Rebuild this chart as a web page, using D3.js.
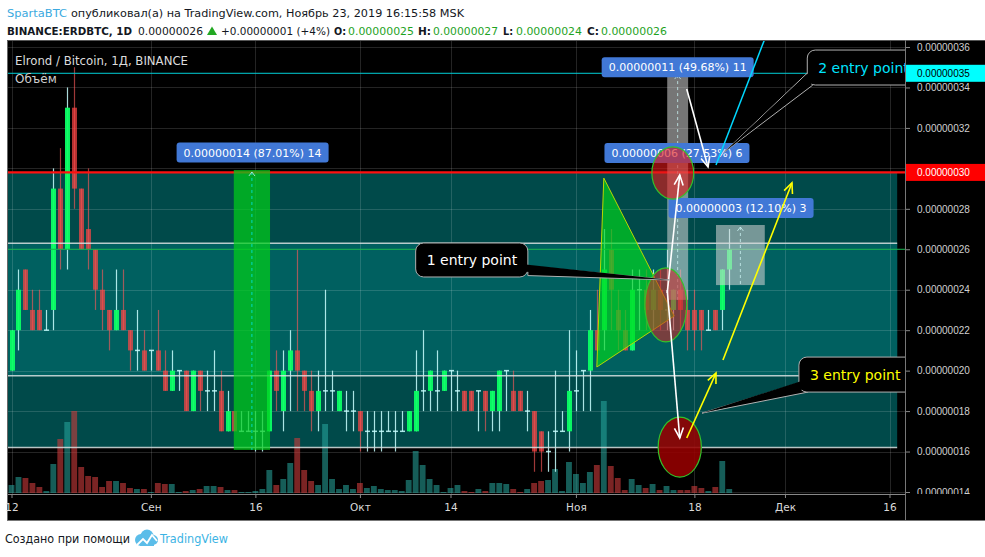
<!DOCTYPE html>
<html><head><meta charset="utf-8">
<script src="https://cdn.jsdelivr.net/npm/d3@7"></script>
<style>body{margin:0;background:#fff;} svg{display:block;}</style>
</head><body>
<svg id="c" width="985" height="557"></svg>
<script>
// ---------------- DATA (prices in satoshi, 1e-8 BTC) ----------------
const startDay = Date.UTC(2019, 7, 12);   // first visible candle: 12 Aug 2019
const opens  = [20,22,25,23,23,22,23,29,26,33,29,27,26,24,23,22,23,22,21,21,21,21,20,19,20,20,18,20,19,19,19,17,18,17,17,17,17,17,20,18,20,21,20,19,18,19,19,18,18,18,18,17,17,17,17,17,17,17,17,19,19,19,19,20,19,19,19,19,19,18,18,20,19,19,18,18,17,16,17,17,17,19,20,20,22,22,26,23,22,21,24,24,23,24,23,23,24,23,23,23,22,23,23,25];
const highs  = [22,25,25,24,24,23,30,31,34,35,29,30,26,25,23,25,25,22,23,22,21,23,21,21,20,20,20,20,20,21,20,19,18,18,18,18,18,20,21,21,22,26,20,20,20,24,20,19,19,19,18,18,18,18,18,18,18,18,21,22,20,21,20,20,20,19,19,19,19,19,20,20,20,19,19,18,17,17,20,18,22,21,20,23,24,27,27,24,23,25,25,25,25,25,26,24,25,24,24,23,23,23,25,27];
const lows   = [20,21,23,22,22,22,22,25,25,28,26,25,23,22,21,22,22,20,20,20,20,20,19,19,19,18,18,18,18,18,17,17,17,17,17,16,16,17,18,17,18,18,18,17,17,18,18,18,17,17,16,16,16,16,17,16,17,17,17,18,18,18,19,18,18,18,18,17,17,17,17,18,18,18,17,15,15,15,15,17,16,18,18,18,21,21,22,21,21,21,22,22,22,22,22,22,22,21,21,21,22,22,22,24];
const closes = [22,24,23,22,22,22,29,26,33,29,26,26,24,23,22,23,22,21,21,20,21,20,19,20,20,18,20,19,19,19,17,18,17,17,17,17,17,20,19,20,21,20,19,18,19,19,19,19,18,18,17,17,17,17,17,17,17,18,19,19,20,19,20,20,19,18,18,19,18,19,20,20,18,18,18,16,16,16,17,17,19,19,20,22,21,25,24,22,21,24,24,23,24,23,23,24,23,22,22,22,22,22,25,26];
const volumes = [8,16,15,10,6,2,29,54,71,82,26,17,16,6,12,12,10,5,4,4,1,10,9,9,1,2,3,4,7,7,6,3,3,1,1,2,4,23,8,14,30,55,23,12,8,69,14,4,8,4,10,5,7,4,3,3,2,13,42,28,14,8,1,5,8,2,1,4,2,10,10,9,4,1,4,10,12,13,24,2,31,19,10,21,28,92,27,15,3,14,8,5,9,3,7,3,3,3,7,5,2,6,32,4];

const priceTicks = [14,16,18,20,22,24,26,28,30,32,34,36];
const timeTicks = [["2019-08-12","12"],["2019-09-01","Сен"],["2019-09-16","16"],["2019-10-01","Окт"],["2019-10-14","14"],["2019-11-01","Ноя"],["2019-11-18","18"],["2019-12-01","Дек"],["2019-12-16","16"]];

// drawn levels and zones (price in satoshi, day = days since 12 Aug)
const redLevel = 29.8;
const cyanLevel = 34.7;
const zoneOuter = {top: 29.8, bottom: 16.2, d0: -60, d1: 127.1};
const zoneInner = {top: 26.3, bottom: 19.75};
const whiteLevels = [26.3, 19.75, 16.2];

const measureRects = [
  {d0: 31.9, d1: 37.1, p0: 16.08, p1: 29.92, kind: "green"},
  {d0: 94.1, d1: 97.1, p0: 23.5,  p1: 34.71, kind: "gray"},
  {d0: 101.1, d1: 108.1, p0: 24.23, p1: 27.2, kind: "gray"}
];
const measureLabels = [
  {text: "0.00000014 (87.01%) 14", d: 34.6, p: 30.78},
  {text: "0.00000011 (49.68%) 11", d: 95.6, p: 35.0},
  {text: "0.00000006 (27.53%) 6",  d: 95.5, p: 30.76},
  {text: "0.00000003 (12.10%) 3",  d: 104.7, p: 28.04}
];
const triangle = [[85.0, 29.52], [84.0, 20.18], [95.1, 22.7]];
const ellipses = [
  {d: 94.9, p: 29.77, rd: 3.0, rp: 1.29, fill: "rgba(225,25,25,0.62)"},
  {d: 93.9, p: 23.25, rd: 3.0, rp: 1.83, fill: "rgba(205,40,40,0.58)"},
  {d: 95.9, p: 16.22, rd: 3.1, rp: 1.48, fill: "rgba(150,0,0,0.88)"}
];
const whiteArrows  = [[[94.1, 23.84], [95.9, 29.67]], [[94.1, 23.99], [95.9, 16.67]], [[96.9, 33.92], [99.96, 30.07]]];
const yellowArrows = [[[96.9, 16.67], [101.1, 19.88]], [[102.1, 20.53], [112.0, 29.28]]];
const cyanTrend = [[101.1, 30.17], [108.6, 36.84]];
const callouts = [
  {text: "1 entry point", color: "#ffffff", d0: 58.0, d1: 74.1, pTop: 26.31, pBot: 24.63, tip: [94.5, 24.48], base: [[74.1, 25.17], [74.1, 24.7]]},
  {text: "2 entry point", color: "#00e5ff", d0: 114.2, d1: 132, pTop: 35.85, pBot: 34.12, tip: [102.3, 30.81], base: [[114.2, 34.71], [115.0, 34.12]]},
  {text: "3 entry point", color: "#ffff00", d0: 113.0, d1: 132, pTop: 20.67, pBot: 18.94, tip: [99.1, 17.9], base: [[113.0, 19.39], [114.3, 18.94]]}
];

// ---------------- SCALES ----------------
const svg = d3.select("#c");
const plot = {l: 8, r: 905, t: 41, b: 494};
const D = d => new Date(startDay + d * 864e5);
const x = d3.scaleUtc().domain([D(0), D(126)]).range([11.5, 889.5]);
const X = d => x(D(d));
const y = d3.scaleLinear().domain([14, 36]).range([492, 47]);
const yv = d3.scaleLinear().domain([0, 100]).range([plot.b - 1, plot.b - 101]);
const dayW = X(1) - X(0);
const fmt = v => (v * 1e-8).toFixed(8);
const candles = opens.map((o, i) => ({i, o, h: highs[i], l: lows[i], c: closes[i], v: volumes[i]}));

// ---------------- FRAME / HEADER ----------------
svg.append("rect").attr("width", 985).attr("height", 557).attr("fill", "#fff");
svg.append("rect").attr("x", 7).attr("y", 40).attr("width", 978).attr("height", 480).attr("fill", "#000");
svg.append("line").attr("x1", 7.5).attr("x2", 7.5).attr("y1", 40).attr("y2", 521).attr("stroke", "#666");
svg.append("line").attr("x1", 7).attr("x2", 985).attr("y1", 40.5).attr("y2", 40.5).attr("stroke", "#555");
svg.append("line").attr("x1", 7).attr("x2", 985).attr("y1", 520.5).attr("y2", 520.5).attr("stroke", "#777");

const hdr = svg.append("g").attr("font-family", "DejaVu Sans, Verdana, sans-serif").attr("font-size", 11);
const headerSegs = [
  {t: "SpartaBTC", x: 7, w: 60, y: 17, fill: "#3ba9e0"},
  {t: "опубликовал(а) на TradingView.com, Ноябрь 23, 2019 16:15:58 MSK", x: 71, w: 393, y: 17, fill: "#131722"},
  {t: "BINANCE:ERDBTC, 1D", x: 7, w: 125, y: 35, fill: "#131722", b: 1},
  {t: "0.00000026", x: 138, w: 65, y: 35, fill: "#131722"},
  {t: "+0.00000001 (+4%)", x: 221, w: 109, y: 35, fill: "#131722"},
  {t: "O:", x: 334, w: 12, y: 35, fill: "#131722", b: 1},
  {t: "0.00000025", x: 348, w: 66, y: 35, fill: "#1fa31f"},
  {t: "H:", x: 418, w: 13, y: 35, fill: "#131722", b: 1},
  {t: "0.00000027", x: 433, w: 65, y: 35, fill: "#1fa31f"},
  {t: "L:", x: 503, w: 10, y: 35, fill: "#131722", b: 1},
  {t: "0.00000024", x: 516, w: 66, y: 35, fill: "#1fa31f"},
  {t: "C:", x: 587, w: 12, y: 35, fill: "#131722", b: 1},
  {t: "0.00000026", x: 601, w: 66, y: 35, fill: "#1fa31f"}
];
headerSegs.forEach(s => hdr.append("text").attr("x", s.x).attr("y", s.y).attr("fill", s.fill)
  .attr("font-weight", s.b ? "bold" : null).attr("textLength", s.w).attr("lengthAdjust", "spacingAndGlyphs").text(s.t));
hdr.append("path").attr("d", "M207,35L212,26.5L217,35Z").attr("fill", "#22a822");

// footer
const ft = svg.append("g").attr("font-family", "DejaVu Sans, Verdana, sans-serif").attr("font-size", 12);
ft.append("text").attr("x", 5).attr("y", 543).attr("fill", "#131722").attr("textLength", 125).attr("lengthAdjust", "spacingAndGlyphs").text("Создано при помощи");
const logo = ft.append("g").attr("transform", "translate(134,529)");
logo.append("circle").attr("cx", 7).attr("cy", 11).attr("r", 6).attr("fill", "#5bbde9");
logo.append("circle").attr("cx", 13).attr("cy", 7).attr("r", 6.5).attr("fill", "#5bbde9");
logo.append("circle").attr("cx", 19).attr("cy", 11).attr("r", 5).attr("fill", "#5bbde9");
logo.append("rect").attr("x", 6).attr("y", 10).attr("width", 14).attr("height", 7).attr("fill", "#5bbde9");
logo.append("path").attr("d", "M3,16L9,10L13,14L18,6L23,12").attr("fill", "none").attr("stroke", "#fff").attr("stroke-width", 1.8);
ft.append("text").attr("x", 160).attr("y", 543).attr("fill", "#3bb3e4").attr("font-size", 12.5).attr("textLength", 68).attr("lengthAdjust", "spacingAndGlyphs").text("TradingView");

// ---------------- PLOT ----------------
svg.append("clipPath").attr("id", "pc").append("rect").attr("x", plot.l).attr("y", plot.t).attr("width", plot.r - plot.l).attr("height", plot.b - plot.t);
const P = svg.append("g").attr("clip-path", "url(#pc)");

// zones
P.append("rect").attr("x", X(zoneOuter.d0)).attr("width", X(zoneOuter.d1) - X(zoneOuter.d0))
  .attr("y", y(zoneOuter.top)).attr("height", y(zoneOuter.bottom) - y(zoneOuter.top)).attr("fill", "#004a4a");
P.append("rect").attr("x", X(zoneOuter.d0)).attr("width", X(zoneOuter.d1) - X(zoneOuter.d0))
  .attr("y", y(zoneInner.top)).attr("height", y(zoneInner.bottom) - y(zoneInner.top)).attr("fill", "#006060");

// grid
const grid = P.append("g").attr("stroke", "rgba(255,255,255,0.14)").attr("stroke-width", 1);
timeTicks.forEach(t => { const xx = Math.round(x(new Date(t[0]))) + 0.5;
  grid.append("line").attr("x1", xx).attr("x2", xx).attr("y1", plot.t).attr("y2", plot.b); });
priceTicks.forEach(p => { const yy = Math.round(y(p)) + 0.5;
  grid.append("line").attr("x1", plot.l).attr("x2", plot.r).attr("y1", yy).attr("y2", yy); });

// volume
const vw = dayW * 0.84;
P.append("g").selectAll("rect").data(candles).join("rect")
  .attr("x", d => X(d.i) - vw / 2).attr("width", vw)
  .attr("y", d => yv(d.v)).attr("height", d => yv(0) - yv(d.v))
  .attr("fill", d => d.c >= d.o ? "rgba(40,170,160,0.55)" : "rgba(205,60,60,0.6)");

// candles
const bw = dayW * 0.72;
const upWick = "rgba(200,255,255,0.85)", dnWick = "rgba(255,90,90,0.62)";
const cg = P.append("g");
cg.selectAll("line.w").data(candles).join("line").attr("class", "w")
  .attr("x1", d => Math.round(X(d.i)) + 0.5).attr("x2", d => Math.round(X(d.i)) + 0.5)
  .attr("y1", d => y(d.h)).attr("y2", d => y(d.l))
  .attr("stroke", d => d.c >= d.o ? upWick : dnWick).attr("stroke-width", 1.2);
cg.selectAll("rect").data(candles.filter(d => d.o !== d.c)).join("rect")
  .attr("x", d => Math.round(X(d.i)) + 0.5 - bw / 2).attr("width", bw)
  .attr("y", d => y(Math.max(d.o, d.c))).attr("height", d => Math.abs(y(d.o) - y(d.c)))
  .attr("fill", d => d.c > d.o ? "rgba(10,255,100,0.95)" : "rgba(255,70,70,0.7)");
cg.selectAll("line.dj").data(candles.filter(d => d.o === d.c)).join("line").attr("class", "dj")
  .attr("x1", d => Math.round(X(d.i)) + 0.5 - bw / 2).attr("x2", d => Math.round(X(d.i)) + 0.5 + bw / 2)
  .attr("y1", d => y(d.o)).attr("y2", d => y(d.o)).attr("stroke", upWick).attr("stroke-width", 1.5);

// level lines
whiteLevels.forEach(p => P.append("line").attr("x1", plot.l).attr("x2", X(zoneOuter.d1)).attr("y1", y(p)).attr("y2", y(p))
  .attr("stroke", "rgba(215,225,225,0.85)").attr("stroke-width", 1.6));
const lastClose = closes[closes.length - 1];
P.append("line").attr("x1", plot.l).attr("x2", plot.r).attr("y1", y(lastClose)).attr("y2", y(lastClose)).attr("stroke", "#13b24a").attr("stroke-width", 1);
P.append("line").attr("x1", plot.l).attr("x2", plot.r).attr("y1", y(cyanLevel)).attr("y2", y(cyanLevel)).attr("stroke", "#00cfd6").attr("stroke-width", 1);
P.append("line").attr("x1", plot.l).attr("x2", plot.r).attr("y1", y(redLevel)).attr("y2", y(redLevel)).attr("stroke", "#ff1010").attr("stroke-width", 2.2);

// measure rects
measureRects.forEach(m => {
  const x0 = X(m.d0), x1 = X(m.d1), y0 = y(m.p1), y1 = y(m.p0), cx = (x0 + x1) / 2;
  P.append("rect").attr("x", x0).attr("y", y0).attr("width", x1 - x0).attr("height", y1 - y0)
    .attr("fill", m.kind === "green" ? "rgba(0,205,25,0.72)" : "rgba(215,215,215,0.55)");
  P.append("line").attr("x1", cx).attr("x2", cx).attr("y1", y0 + 2).attr("y2", y1)
    .attr("stroke", m.kind === "green" ? "rgba(0,230,230,0.8)" : "rgba(200,240,240,0.8)").attr("stroke-dasharray", "3,3");
  P.append("path").attr("d", `M${cx - 3},${y0 + 6}L${cx},${y0 + 2}L${cx + 3},${y0 + 6}`).attr("fill", "none")
    .attr("stroke", "rgba(200,240,240,0.8)");
});

// triangle
P.append("path").attr("d", d3.line()(triangle.map(p => [X(p[0]), y(p[1])])) + "Z")
  .attr("fill", "rgba(0,215,30,0.68)").attr("stroke", "#b8d800").attr("stroke-width", 1);

// measure labels
const lab = P.append("g").attr("font-family", "DejaVu Sans, Verdana, sans-serif").attr("font-size", 11);
measureLabels.forEach(m => {
  const g = lab.append("g");
  const t = g.append("text").attr("x", X(m.d)).attr("y", y(m.p) + 4).attr("text-anchor", "middle").attr("fill", "#fff").text(m.text);
  const w = t.node().getComputedTextLength() + 14;
  g.insert("rect", "text").attr("x", X(m.d) - w / 2).attr("y", y(m.p) - 10).attr("width", w).attr("height", 20)
    .attr("rx", 3).attr("fill", "#4178d6");
});

// ellipses
ellipses.forEach(e => P.append("ellipse").attr("cx", X(e.d)).attr("cy", y(e.p))
  .attr("rx", X(e.rd) - X(0)).attr("ry", y(0) - y(e.rp)).attr("fill", e.fill).attr("stroke", "#33c22a").attr("stroke-width", 1.2));

// arrows
function arrow(a, b, color, w) {
  const x1 = X(a[0]), y1 = y(a[1]), x2 = X(b[0]), y2 = y(b[1]);
  P.append("line").attr("x1", x1).attr("y1", y1).attr("x2", x2).attr("y2", y2).attr("stroke", color).attr("stroke-width", w);
  const ang = Math.atan2(y2 - y1, x2 - x1), L = 11, s = 0.42;
  const pts = [[x2 - L * Math.cos(ang - s), y2 - L * Math.sin(ang - s)], [x2, y2], [x2 - L * Math.cos(ang + s), y2 - L * Math.sin(ang + s)]];
  P.append("path").attr("d", d3.line()(pts)).attr("fill", "none").attr("stroke", color).attr("stroke-width", w);
}
P.append("line").attr("x1", X(cyanTrend[0][0])).attr("y1", y(cyanTrend[0][1])).attr("x2", X(cyanTrend[1][0])).attr("y2", y(cyanTrend[1][1]))
  .attr("stroke", "#00d8ff").attr("stroke-width", 1.5);
whiteArrows.forEach(a => arrow(a[0], a[1], "#ffffff", 1.6));
yellowArrows.forEach(a => arrow(a[0], a[1], "#ffff00", 1.6));

// callouts
const cog = P.append("g").attr("font-family", "DejaVu Sans, Verdana, sans-serif").attr("font-size", 14);
callouts.forEach(c => {
  const x0 = X(c.d0), x1 = X(c.d1), yt = y(c.pTop), yb = y(c.pBot);
  const cx = (x0 + x1) / 2, cy = (yt + yb) / 2;
  const tail = [c.base[0], c.tip, c.base[1]].map(p => [X(p[0]), y(p[1])]);
  cog.append("path").attr("d", d3.line()(tail) + "Z").attr("fill", "#000").attr("stroke", "#b0b0b0").attr("stroke-width", 1);
  cog.append("rect").attr("x", x0).attr("y", yt).attr("width", x1 - x0).attr("height", yb - yt).attr("rx", 8)
    .attr("fill", "#000").attr("stroke", "#b0b0b0").attr("stroke-width", 1);
  const inner = [tail[0], tail[1], tail[2]].map((p, k) => k === 1 ? p : [p[0] + (cx - p[0]) * 0.04, p[1] + (cy - p[1]) * 0.25]);
  cog.append("path").attr("d", d3.line()(inner) + "Z").attr("fill", "#000");
  cog.append("text").attr("x", x0 + 11).attr("y", cy + 5).attr("fill", c.color).text(c.text);
});

// in-plot titles
P.append("text").attr("x", 15).attr("y", 65).attr("fill", "#dcdcdc").attr("font-family", "DejaVu Sans, Verdana, sans-serif")
  .attr("font-size", 12).attr("textLength", 173).attr("lengthAdjust", "spacingAndGlyphs").text("Elrond / Bitcoin, 1Д, BINANCE");
P.append("text").attr("x", 15).attr("y", 83).attr("fill", "#cfcfcf").attr("font-family", "DejaVu Sans, Verdana, sans-serif")
  .attr("font-size", 12).text("Объём");

// ---------------- AXES ----------------
const markers = [[cyanLevel, "#00ffff", "#000"], [redLevel, "#ff0000", "#fff"]];
svg.append("clipPath").attr("id", "ac").append("rect").attr("x", 0).attr("y", plot.t).attr("width", 80).attr("height", plot.b - plot.t);
const ay = svg.append("g").attr("transform", `translate(${plot.r},0)`).attr("clip-path", "url(#ac)")
  .call(d3.axisRight(y).tickValues(priceTicks).tickSize(5).tickPadding(7).tickFormat(fmt));
ay.select(".domain").remove();
ay.selectAll("line").attr("stroke", "#888");
ay.selectAll("text").attr("fill", "#d0d0d0").attr("font-family", "Liberation Sans, Arial, sans-serif").attr("font-size", 10)
  .attr("display", d => markers.some(m => Math.abs(y(m[0]) - y(d)) < 12) ? "none" : null);
svg.append("line").attr("x1", plot.r + 0.5).attr("x2", plot.r + 0.5).attr("y1", 40).attr("y2", 521).attr("stroke", "#777");

// price marker labels
markers.forEach(([p, bg, fg]) => {
  svg.append("rect").attr("x", plot.r + 1).attr("y", y(p) - 8.5).attr("width", 80).attr("height", 17).attr("fill", bg);
  svg.append("text").attr("x", plot.r + 12).attr("y", y(p) + 3.5).attr("fill", fg)
    .attr("font-family", "Liberation Sans, Arial, sans-serif").attr("font-size", 10).text(fmt(Math.round(p)));
});

const ax = svg.append("g").attr("transform", `translate(0,${plot.b})`)
  .call(d3.axisBottom(x).tickValues(timeTicks.map(t => new Date(t[0]))).tickSize(4).tickPadding(6)
    .tickFormat((d, i) => timeTicks[i][1]));
ax.select(".domain").attr("stroke", "#888").attr("d", `M${plot.l},0.5H${plot.r}`);
ax.selectAll("line").attr("stroke", "#888");
ax.selectAll("text").attr("fill", "#dadada").attr("font-family", "DejaVu Sans, Verdana, sans-serif").attr("font-size", 10.5);
</script>
</body></html>
